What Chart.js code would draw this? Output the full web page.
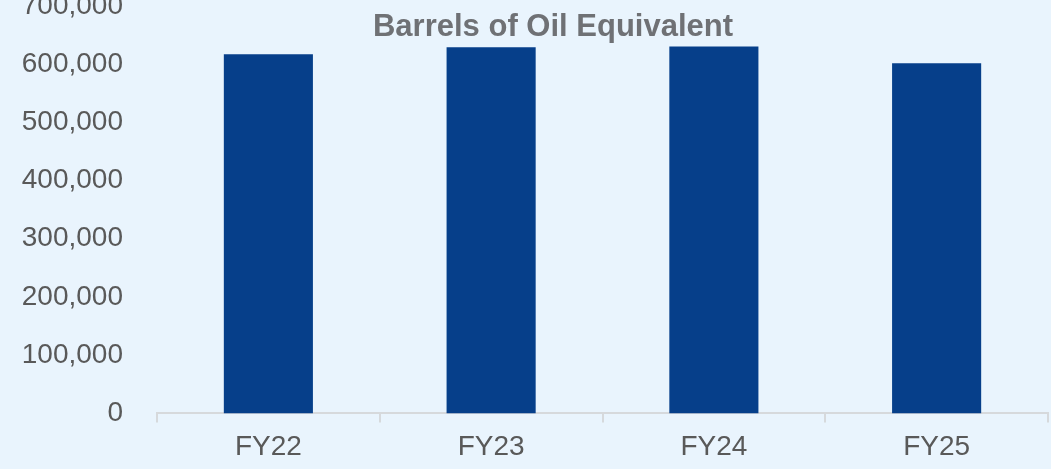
<!DOCTYPE html>
<html>
<head>
<meta charset="utf-8">
<script src="https://cdn.jsdelivr.net/npm/chart.js@4.4.1/dist/chart.umd.min.js"></script>
<style>
  html, body { margin: 0; padding: 0; background: #e9f4fd; overflow: hidden; }
  #wrap { position: absolute; left: 0; top: -37px; width: 1051px; height: 515px; }
</style>
</head>
<body>
<div id="wrap"><canvas id="c"></canvas></div>
<script>
const categories = ["FY22", "FY23", "FY24", "FY25"];
const boeValues = [617000, 629000, 630300, 601200];
const chartTitle = "Barrels of Oil Equivalent";
const yTicks = [0, 100000, 200000, 300000, 400000, 500000, 600000, 700000];

const titlePlugin = {
  id: 'overTitle',
  afterDraw(chart) {
    const ctx = chart.ctx;
    ctx.save();
    ctx.font = "bold 31px 'Liberation Sans', Arial, sans-serif";
    ctx.fillStyle = "#6f7175";
    ctx.textAlign = "center";
    ctx.textBaseline = "alphabetic";
    ctx.fillText(chartTitle, 553, 36 + 37);
    ctx.restore();
  }
};

new Chart(document.getElementById('c'), {
  type: 'bar',
  data: {
    labels: categories,
    datasets: [{
      data: boeValues,
      backgroundColor: '#063f8a',
      borderWidth: 0,
      barPercentage: 0.4,
      categoryPercentage: 1.0
    }]
  },
  options: {
    responsive: true,
    maintainAspectRatio: false,
    animation: false,
    layout: { padding: { right: 3, bottom: 6, top: 0, left: 0 } },
    plugins: { legend: { display: false }, title: { display: false }, tooltip: { enabled: false } },
    scales: {
      x: {
        offset: true,
        grid: { display: true, drawOnChartArea: false, offset: true, tickLength: 9, color: '#d6d9dc', lineWidth: 2 },
        border: { display: true, color: '#d6d9dc', width: 2 },
        ticks: { color: '#595959', padding: 8, font: { family: "'Liberation Sans', Arial, sans-serif", size: 28 } }
      },
      y: {
        min: 0, max: 700000,
        afterBuildTicks(scale) { scale.ticks = yTicks.map(v => ({ value: v })); },
        afterFit(scale) { scale.width = 157; },
        grid: { display: false },
        border: { display: false },
        ticks: {
          color: '#595959', padding: 26,
          font: { family: "'Liberation Sans', Arial, sans-serif", size: 28 },
          callback: v => v.toLocaleString('en-US')
        }
      }
    }
  },
  plugins: [titlePlugin]
});
</script>
</body>
</html>
